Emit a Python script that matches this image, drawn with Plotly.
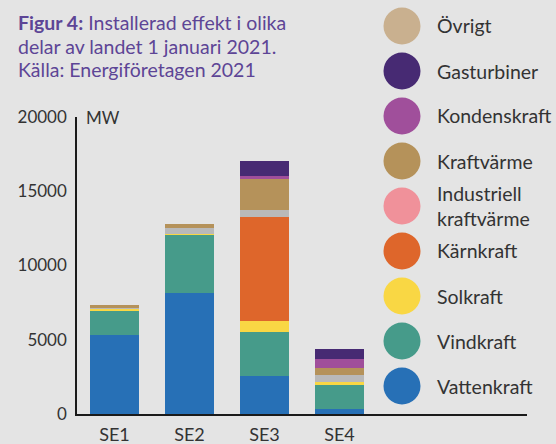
import plotly.graph_objects as go

# ---- data (MW) ----
regions = ["SE1", "SE2", "SE3", "SE4"]
vattenkraft = [5320, 8170, 2560, 340]
vindkraft = [1680, 3890, 2960, 1620]
solkraft = [90, 70, 740, 200]
karnkraft = [0, 0, 7000, 0]
industriell_kraftvarme = [70, 400, 470, 470]
kraftvarme = [180, 270, 2090, 470]
kondenskraft = [0, 0, 200, 610]
gasturbiner = [0, 0, 1010, 670]

series_names = ["Vattenkraft", "Vindkraft", "Solkraft", "Kärnkraft",
                "Industriell kraftvärme", "Kraftvärme", "Kondenskraft", "Gasturbiner"]
series_values = [vattenkraft, vindkraft, solkraft, karnkraft,
                 industriell_kraftvarme, kraftvarme, kondenskraft, gasturbiner]
bar_colors = ["#2770b6", "#469b8a", "#f9d744", "#de662b",
              "#b9b9b9", "#b5925a", "#a04f9b", "#472a73"]

legend_labels = ["Övrigt", "Gasturbiner", "Kondenskraft", "Kraftvärme",
                 "Industriell<br>kraftvärme", "Kärnkraft", "Solkraft", "Vindkraft", "Vattenkraft"]
legend_colors = ["#c9b08f", "#472a73", "#a04f9b", "#b5925a",
                 "#f0919a", "#de662b", "#f9d744", "#469b8a", "#2770b6"]

title_lines = ["<b>Figur 4:</b> Installerad effekt i olika",
               "delar av landet 1 januari 2021.",
               "Källa: Energiföretagen 2021"]

y_ticks = [0, 5000, 10000, 15000, 20000]

FONT = "Lato"
BG = "#e4e4e4"

W, H = 556, 444
ml, mr, mt, mb = 77, 29, 117, 30
PW, PH = W - ml - mr, H - mt - mb


def px(xp):
    return (xp - ml) / PW


def py(yp):
    return 1 - (yp - mt) / PH


fig = go.Figure()
for name, vals, col in zip(series_names, series_values, bar_colors):
    fig.add_trace(go.Bar(x=regions, y=vals, name=name, marker_color=col,
                         marker_line_width=0, width=0.653, showlegend=False,
                         hoverinfo="skip"))

fig.update_layout(
    width=W, height=H, autosize=False, barmode="stack",
    paper_bgcolor=BG, plot_bgcolor=BG,
    margin=dict(l=ml, r=mr, t=mt, b=mb, pad=0, autoexpand=False),
    font=dict(family=FONT, color="#333333"),
    xaxis=dict(range=[-0.5, 5.5], showgrid=False, zeroline=False, automargin=False,
               showline=True, linecolor="#1a1a1a", linewidth=1.5,
               ticks="outside", ticklen=4, tickcolor="rgba(0,0,0,0)",
               tickfont=dict(size=18, color="#333333")),
    yaxis=dict(range=[0, 20000], tickvals=y_ticks, ticktext=[str(t) for t in y_ticks],
               showgrid=False, zeroline=False, showline=True, automargin=False,
               linecolor="#1a1a1a", linewidth=1.5,
               ticks="outside", ticklen=5, tickcolor="rgba(0,0,0,0)",
               tickfont=dict(size=17, color="#333333")),
)

# unit label
fig.add_annotation(x=px(84), y=py(117), xref="paper", yref="paper",
                   text="MW", showarrow=False, xanchor="left", yanchor="middle",
                   font=dict(size=17, color="#333333"))

# title (three lines)
for k, t in enumerate(title_lines):
    fig.add_annotation(x=px(16), y=py(23 + k * 23.5), xref="paper", yref="paper",
                       xanchor="left", yanchor="middle", align="left", showarrow=False,
                       text=t, font=dict(size=19.5, color="#5d4596", family=FONT))

# custom legend with big circles
cx, r = 402, 18.5
y0, dy = 26, 45
for i, (lab, col) in enumerate(zip(legend_labels, legend_colors)):
    cy = y0 + i * dy
    fig.add_shape(type="circle", xref="paper", yref="paper",
                  x0=px(cx - r), x1=px(cx + r),
                  y0=py(cy + r), y1=py(cy - r),
                  fillcolor=col, line_width=0, layer="above")
    fig.add_annotation(x=px(435), y=py(cy), xref="paper", yref="paper",
                       xanchor="left", yanchor="middle", align="left", showarrow=False,
                       text=lab, font=dict(size=19.5, color="#333333"))

fig.write_html(
    "out.html",
    config={"responsive": False, "displayModeBar": False},
    post_script="document.body.style.margin='0';document.body.style.overflow='hidden';",
)
